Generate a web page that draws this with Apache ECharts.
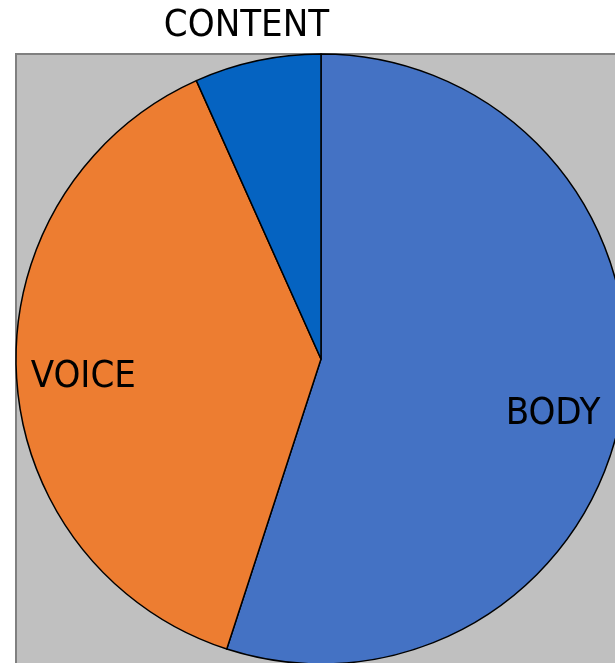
<!DOCTYPE html>
<html>
<head>
<meta charset="utf-8">
<script src="https://cdn.jsdelivr.net/npm/echarts@6/dist/echarts.min.js"></script>
<style>
html,body{margin:0;padding:0;background:#ffffff;}
#chart{width:615px;height:663px;}
</style>
</head>
<body>
<div id="chart"></div>
<script>
var categories = ['BODY', 'VOICE', 'CONTENT'];
var values = [55, 38.3, 6.7];
var colors = ['#4472C4', '#ED7D31', '#0563C1'];
var labelOffsets = {BODY: [-6, 17], VOICE: [3, 5], CONTENT: [-2, 6]};

var FONT = '"DejaVu Sans Condensed", "DejaVu Sans", sans-serif';
var chart = echarts.init(document.getElementById('chart'), null, {renderer: 'canvas'});

function mk(showFn) {
  return categories.map(function (c, i) {
    return {name: c, value: values[i], label: {show: showFn(c), offset: labelOffsets[c]}};
  });
}

var center = [321, 359];
chart.setOption({
  animation: false,
  backgroundColor: '#ffffff',
  graphic: [{
    type: 'rect',
    z: -10,
    shape: {x: 16, y: 54, width: 640, height: 660},
    style: {fill: '#C0C0C0', stroke: '#808080', lineWidth: 2}
  }],
  series: [
    {
      type: 'pie',
      center: center,
      radius: [0, 305],
      startAngle: 90,
      clockwise: true,
      avoidLabelOverlap: false,
      label: {show: false},
      labelLine: {show: false},
      itemStyle: {borderColor: '#000000', borderWidth: 1.5},
      emphasis: {disabled: true},
      data: categories.map(function (c, i) {
        return {name: c, value: values[i], itemStyle: {color: colors[i]}};
      })
    },
    {
      type: 'pie',
      center: center,
      radius: [171, 305],
      startAngle: 90,
      silent: true,
      avoidLabelOverlap: false,
      itemStyle: {color: 'transparent', borderWidth: 0},
      label: {position: 'inside', color: '#000000', fontSize: 38, fontFamily: FONT},
      labelLine: {show: false},
      emphasis: {disabled: true},
      data: mk(function (c) { return c !== 'CONTENT'; })
    },
    {
      type: 'pie',
      center: center,
      radius: [330, 358],
      startAngle: 90,
      silent: true,
      avoidLabelOverlap: false,
      itemStyle: {color: 'transparent', borderWidth: 0},
      label: {position: 'inside', color: '#000000', fontSize: 38, fontFamily: FONT},
      labelLine: {show: false},
      emphasis: {disabled: true},
      data: mk(function (c) { return c === 'CONTENT'; })
    }
  ]
});
</script>
</body>
</html>
